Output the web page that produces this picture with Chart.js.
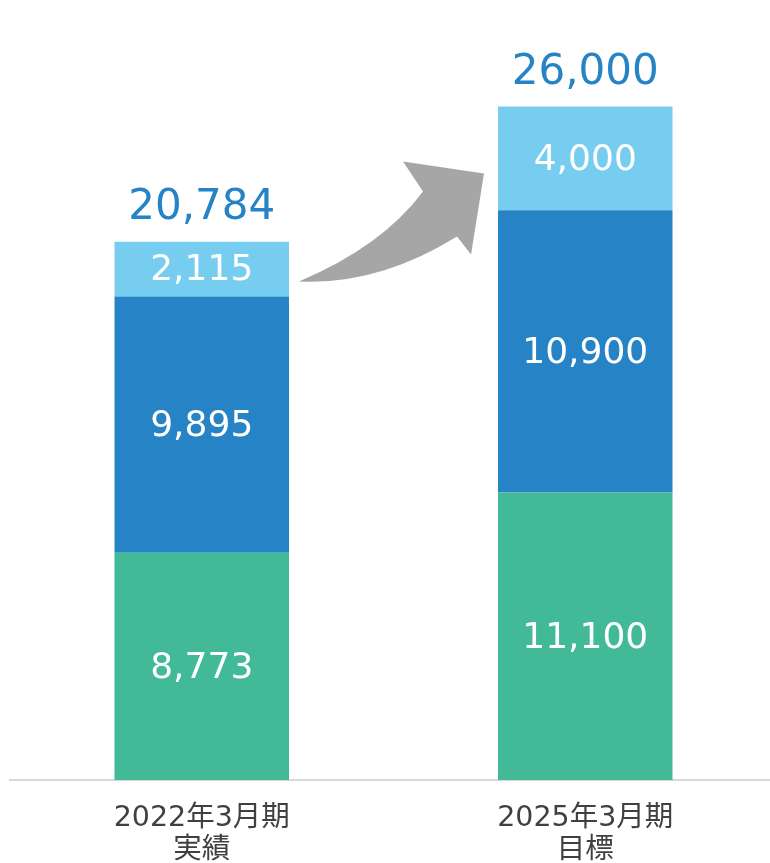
<!DOCTYPE html>
<html>
<head>
<meta charset="utf-8">
<script src="https://cdn.jsdelivr.net/npm/chart.js@4/dist/chart.umd.min.js"></script>
<style>
  html, body { margin: 0; padding: 0; background: #ffffff; overflow: hidden; }
  #wrap { width: 770px; height: 863px; overflow: hidden; position: relative; }
  canvas { display: block; }
</style>
</head>
<body>
<div id="wrap"><canvas id="c" width="777" height="863"></canvas></div>
<script>
// ---- data ----
const categories = [['2022年3月期', '実績'], ['2025年3月期', '目標']];
const greenValues = [8773, 11100];
const blueValues = [9895, 10900];
const lightValues = [2115, 4000];
const totalValues = [20784, 26000];

const fmt = v => v.toLocaleString('en-US');

const labelPlugin = {
  id: 'labels',
  afterDatasetsDraw(chart) {
    const ctx = chart.ctx;
    ctx.save();
    ctx.textAlign = 'center';
    // segment labels
    chart.data.datasets.forEach((ds, di) => {
      const meta = chart.getDatasetMeta(di);
      meta.data.forEach((el, i) => {
        ctx.fillStyle = '#ffffff';
        ctx.font = '36px "DejaVu Sans"';
        ctx.textBaseline = 'middle';
        ctx.fillText(fmt(ds.data[i]), el.x, (el.y + el.base) / 2 + 2);
      });
    });
    // totals
    const topMeta = chart.getDatasetMeta(chart.data.datasets.length - 1);
    topMeta.data.forEach((el, i) => {
      ctx.fillStyle = '#2683C6';
      ctx.font = '42px "DejaVu Sans"';
      ctx.textBaseline = 'alphabetic';
      ctx.fillText(fmt(totalValues[i]), el.x, el.y - 23);
    });
    // arrow between bars (anchored to bar elements)
    const b1 = topMeta.data[0], b2 = topMeta.data[1];
    const A = { x: b1.x + b1.width / 2, y: b1.base };
    const B = { x: b2.x - b2.width / 2, y: b2.y };
    const pa = (dx, dy) => [A.x + dx, A.y + dy];
    const pb = (dx, dy) => [B.x + dx, B.y + dy];
    ctx.fillStyle = '#A6A6A6';
    ctx.beginPath();
    const tail = pa(10, -15);
    ctx.moveTo(...tail);
    ctx.quadraticCurveTo(...pb(-116, 140), ...pb(-75, 85));
    ctx.lineTo(...pb(-95, 55));
    ctx.lineTo(...pb(-14, 67));
    ctx.lineTo(...pb(-27, 148));
    ctx.lineTo(...pb(-41, 130));
    ctx.quadraticCurveTo(...pb(-120, 179), ...tail);
    ctx.closePath();
    ctx.fill();
    ctx.restore();
  }
};

new Chart(document.getElementById('c'), {
  type: 'bar',
  data: {
    labels: categories,
    datasets: [
      { data: greenValues, backgroundColor: '#42BA97' },
      { data: blueValues, backgroundColor: '#2683C6' },
      { data: lightValues, backgroundColor: '#77CDF0' }
    ]
  },
  options: {
    responsive: false,
    animation: false,
    layout: { padding: { left: 10, right: 0, top: 3, bottom: 0 } },
    plugins: { legend: { display: false }, tooltip: { enabled: false } },
    datasets: { bar: { categoryPercentage: 1, barPercentage: 0.455, borderWidth: 0 } },
    scales: {
      x: {
        stacked: true,
        grid: { display: false, drawTicks: false },
        border: { display: true, color: '#D9D9D9', width: 2 },
        ticks: {
          color: '#404040',
          padding: 23,
          font: { family: '"DejaVu Sans", "Noto Sans CJK JP"', size: 28.5, lineHeight: 1.12 }
        },
        afterFit(scale) { scale.height = 83; }
      },
      y: {
        stacked: true,
        display: false,
        min: 0,
        max: 30000
      }
    }
  },
  plugins: [labelPlugin]
});
</script>
</body>
</html>
